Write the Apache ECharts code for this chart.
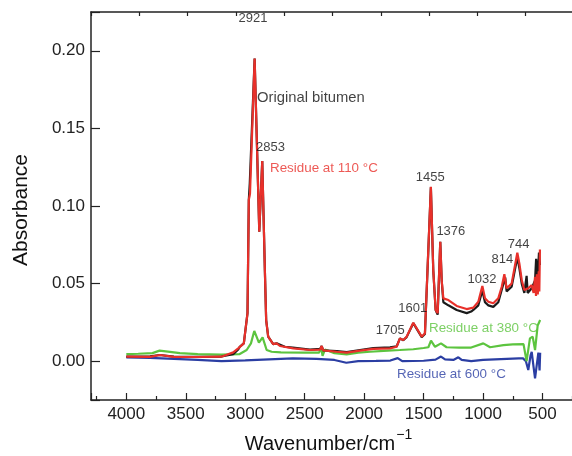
<!DOCTYPE html>
<html>
<head>
<meta charset="utf-8">
<script src="https://cdn.jsdelivr.net/npm/echarts@6/dist/echarts.min.js"></script>
<style>
  html, body { margin: 0; padding: 0; background: #fff; }
  #chart { width: 572px; height: 456px; }
</style>
</head>
<body>
<div id="chart"></div>
<script>
// spectra: [wavenumber, absorbance]
const original = [
  [4000, 0.003], [3800, 0.0032], [3717, 0.004], [3600, 0.003], [3400, 0.0028], [3200, 0.003],
  [3101, 0.0045], [3059, 0.0075], [3046, 0.0093], [3012, 0.0115], [2981, 0.031], [2970, 0.104],
  [2962, 0.1145], [2921, 0.195], [2882, 0.0834], [2857, 0.129], [2835, 0.0588], [2824, 0.0265],
  [2807, 0.0158], [2765, 0.011], [2736, 0.0115], [2667, 0.0093], [2600, 0.0088], [2456, 0.0075],
  [2370, 0.008], [2357, 0.0098], [2345, 0.007], [2231, 0.0065], [2147, 0.0058], [2035, 0.0072],
  [1923, 0.0085], [1783, 0.009], [1727, 0.0095], [1699, 0.0147], [1671, 0.0135], [1643, 0.0155],
  [1587, 0.0245], [1516, 0.0155], [1489, 0.0175], [1439, 0.112], [1419, 0.0588], [1399, 0.033],
  [1382, 0.030], [1360, 0.077], [1348, 0.052], [1334, 0.038], [1292, 0.036], [1222, 0.033],
  [1138, 0.031], [1100, 0.032], [1082, 0.033], [1040, 0.036], [1006, 0.0455], [984, 0.038],
  [956, 0.036], [914, 0.035], [872, 0.038], [843, 0.046], [814, 0.054], [802, 0.045], [760, 0.048],
  [712, 0.067], [695, 0.06], [675, 0.05], [653, 0.044], [634, 0.055], [625, 0.044], [591, 0.047],
  [563, 0.052], [554, 0.066], [540, 0.055], [530, 0.07], [522, 0.062]
]
const residue110 = [
  [4000, 0.0029], [3800, 0.0028], [3717, 0.004], [3600, 0.0028], [3400, 0.0027], [3200, 0.0029],
  [3101, 0.0057], [3059, 0.0083], [3046, 0.0093], [3012, 0.0115], [2981, 0.031], [2970, 0.104],
  [2960, 0.108], [2921, 0.195], [2882, 0.0834], [2857, 0.129], [2835, 0.0588], [2824, 0.0265],
  [2807, 0.0158], [2765, 0.011], [2736, 0.0115], [2708, 0.0098], [2596, 0.0083], [2456, 0.0072],
  [2370, 0.0075], [2357, 0.0098], [2345, 0.007], [2231, 0.0061], [2147, 0.0055], [2035, 0.0068],
  [1923, 0.0079], [1783, 0.0083], [1727, 0.0093], [1699, 0.0147], [1671, 0.0137], [1643, 0.0158],
  [1587, 0.0248], [1516, 0.0158], [1489, 0.018], [1439, 0.1124], [1419, 0.0588], [1399, 0.033],
  [1382, 0.031], [1360, 0.077], [1348, 0.052], [1334, 0.0405], [1292, 0.0394], [1222, 0.0356],
  [1138, 0.0336], [1082, 0.0345], [1040, 0.0383], [1006, 0.0485], [984, 0.0405], [956, 0.0383],
  [914, 0.0373], [872, 0.0405], [843, 0.048], [821, 0.056], [802, 0.047], [760, 0.050],
  [712, 0.0699], [695, 0.063], [675, 0.0523], [653, 0.0459], [620, 0.047], [591, 0.049],
  [575, 0.044], [563, 0.0544], [555, 0.042], [548, 0.056], [540, 0.043], [532, 0.058],
  [527, 0.045], [522, 0.072]
]
const residue380 = [
  [4000, 0.0045], [3900, 0.0048], [3780, 0.0052], [3720, 0.0068], [3650, 0.0062], [3550, 0.0052],
  [3400, 0.0045], [3200, 0.0042], [3050, 0.0045], [2988, 0.0072], [2952, 0.0115], [2924, 0.0195],
  [2885, 0.012], [2854, 0.0154], [2820, 0.0072], [2778, 0.0061], [2700, 0.0057], [2500, 0.0055],
  [2380, 0.0055], [2360, 0.0085], [2350, 0.0035], [2330, 0.0075], [2250, 0.0052], [2147, 0.0044],
  [2050, 0.0055], [1950, 0.0061], [1800, 0.0068], [1700, 0.0072], [1587, 0.0077], [1500, 0.0085],
  [1460, 0.009], [1438, 0.0132], [1404, 0.0093], [1354, 0.0115], [1307, 0.009], [1200, 0.0087],
  [1100, 0.0088], [998, 0.0115], [941, 0.009], [829, 0.0104], [750, 0.0108], [660, 0.011],
  [634, 0.0], [606, 0.0147], [583, 0.0158], [563, 0.0072], [541, 0.023], [520, 0.0265]
]
const residue600 = [
  [4000, 0.0025], [3800, 0.0022], [3600, 0.0015], [3400, 0.0008], [3200, 0.0], [3000, 0.0005],
  [2800, 0.0012], [2600, 0.0018], [2400, 0.0015], [2250, 0.0008], [2150, -0.001], [2050, 0.0],
  [1900, 0.0002], [1780, 0.0004], [1718, 0.002], [1680, 0.0], [1500, 0.0003], [1400, 0.001],
  [1354, 0.003], [1320, 0.0012], [1250, 0.0008], [1208, 0.0025], [1180, 0.0008], [1100, 0.0],
  [1000, 0.0008], [900, 0.0012], [800, 0.0015], [700, 0.0018], [664, 0.0018], [640, 0.0],
  [620, -0.0057], [600, 0.004], [591, 0.006], [575, -0.004], [563, -0.011], [548, -0.002],
  [535, 0.0055], [525, -0.006], [520, 0.0055]
]

// text labels: [text, wavenumber, absorbance, colour, align, size]
const notes = [
  ['2921', 2935, 0.2211, '#111', 'center', 13],
  ['Original bitumen', 2901, 0.1696, '#111', 'left', 14.8],
  ['2853', 2788, 0.1376, '#111', 'center', 13],
  ['Residue at 110 °C', 2792, 0.1245, '#e8302a', 'left', 13.4],
  ['1455', 1444, 0.1185, '#111', 'center', 13],
  ['1376', 1271, 0.0834, '#111', 'center', 13],
  ['1032', 1009, 0.053, '#111', 'center', 13],
  ['814', 838, 0.0658, '#111', 'center', 13],
  ['744', 702, 0.0755, '#111', 'center', 13],
  ['1601', 1591, 0.0343, '#111', 'center', 13],
  ['1705', 1780, 0.0201, '#111', 'center', 13],
  ['Residue at 380 °C', 1455, 0.0214, '#5cc43f', 'left', 13.4],
  ['Residue at 600 °C', 1724, -0.0082, '#2b3ea3', 'left', 13.4]
]

const font = 'Liberation Sans'
const chart = echarts.init(document.getElementById('chart'))

function line(data, color, z) {
  return {
    type: 'line',
    data,
    showSymbol: false,
    smooth: false,
    z,
    lineStyle: { color, width: 2.2 },
    silent: true
  }
}

chart.setOption({
  animation: false,
  backgroundColor: '#fff',
  grid: { left: 91, top: 12, width: 511, height: 388, outerBoundsMode: 'none', containLabel: false },
  xAxis: [
    {
      type: 'value',
      inverse: true,
      min: 0,
      max: 4297,
      interval: 500,
      name: '{a|Wavenumber/cm}{b|−1}',
      nameLocation: 'middle',
      nameGap: 28,
      nameTextStyle: {
        padding: [0, 36, 0, 0],
        rich: {
          a: { fontFamily: font, fontSize: 20, color: '#111', verticalAlign: 'bottom' },
          b: { fontFamily: font, fontSize: 14, color: '#111', verticalAlign: 'top', padding: [0, 0, 12, 1] }
        }
      },
      axisLine: { onZero: false, lineStyle: { color: '#222', width: 1.5 } },
      axisTick: { inside: true, length: 7, lineStyle: { color: '#222', width: 1.2 } },
      minorTick: { show: true, splitNumber: 2, length: 4, lineStyle: { color: '#222', width: 1.2 } },
      axisLabel: {
        margin: 6,
        fontFamily: font,
        fontSize: 17,
        color: '#222',
        formatter: v => (v > 0 && v % 500 === 0 ? String(v) : '')
      },
      splitLine: { show: false }
    },
    {
      type: 'value',
      position: 'top',
      min: 0,
      max: 10.58,
      interval: 1,
      axisLine: { show: true, onZero: false, lineStyle: { color: '#222', width: 1.5 } },
      axisTick: { inside: true, length: 4, lineStyle: { color: '#222', width: 1.2 } },
      axisLabel: { show: false },
      splitLine: { show: false }
    }
  ],
  yAxis: [
    {
      type: 'value',
      position: 'left',
      min: -0.025,
      max: 0.225,
      splitNumber: 5,
      name: 'Absorbance',
      nameLocation: 'middle',
      nameGap: 59,
      nameTextStyle: { fontFamily: font, fontSize: 21, color: '#111', padding: [0, 8, 0, 0] },
      axisLine: { show: true, onZero: false, lineStyle: { color: '#222', width: 1.5 } },
      axisTick: { inside: true, length: 9, lineStyle: { color: '#222', width: 1.2 } },
      axisLabel: {
        margin: 6,
        fontFamily: font,
        fontSize: 17,
        color: '#222',
        formatter: v => {
          const r = Math.round(v * 100)
          if (Math.abs(v * 100 - r) > 1e-6 || r % 5 !== 0) return ''
          return v.toFixed(2)
        }
      },
      splitLine: { show: false }
    },
    {
      type: 'value',
      position: 'left',
      offset: 0,
      min: -0.025,
      max: 0.225,
      interval: 0.025,
      axisLine: { show: false },
      axisTick: { show: true, inside: true, length: 5, lineStyle: { color: '#222', width: 1.2 } },
      axisLabel: { show: false },
      splitLine: { show: false }
    }
  ],
  series: [
    line(residue600, '#2b3ea3', 2),
    line(residue380, '#5cc43f', 3),
    line(original, '#1a1a1a', 4),
    line(residue110, '#e8302a', 5),
    {
      type: 'scatter',
      symbolSize: 1,
      itemStyle: { color: 'transparent' },
      silent: true,
      z: 10,
      data: notes.map(n => ({
        value: [n[1], n[2]],
        name: n[0],
        label: { color: n[3], align: n[4], fontSize: n[5] }
      })),
      label: {
        show: true,
        position: 'inside',
        verticalAlign: 'middle',
        fontFamily: font,
        fontSize: 13,
        formatter: p => p.name
      }
    }
  ]
})
</script>
</body>
</html>
